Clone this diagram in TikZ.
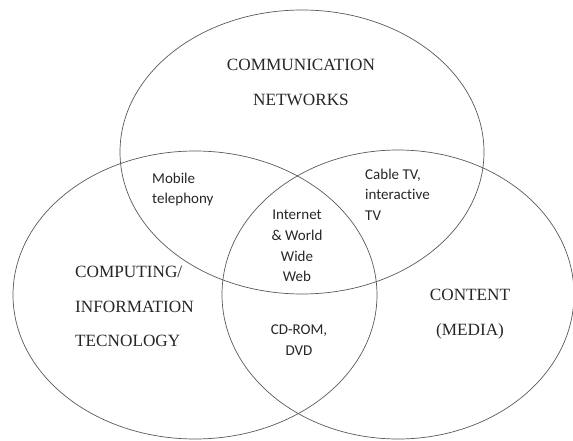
\documentclass[tikz,border=0pt]{standalone}
\usepackage{fontspec}
\setmainfont{Liberation Serif}
\newfontfamily\bodysans[Ligatures=NoCommon]{Carlito}
\usetikzlibrary{shapes.geometric}

\begin{document}
\begin{tikzpicture}[x = 1pt, y = -1pt, % y grows downwards
                set/.style = {draw = black!65, ellipse, line width = 0.7pt, inner sep = 0pt},
                setname/.style = {font = \fontsize{17.2}{34.5}\selectfont, text = black!85, inner sep = 0pt},
                overlap/.style = {font = \bodysans\fontsize{15}{20.7}\selectfont, text = black!85, inner sep = 0pt}
            ]
            \useasboundingbox (0,0) rectangle (573,441);

            % the three sets
            \node[set, minimum width = 364pt, minimum height = 284pt] (comm) at (302,152) {};
            \node[set, minimum width = 364pt, minimum height = 288pt] (comp) at (195,295) {};
            \node[set, minimum width = 352pt, minimum height = 289pt] (cont) at (398,294.5) {};

            % names of the sets
            \node[setname, align = center] (commname) at (301,82.5) {COMMUNICATION\\NETWORKS};
            \node[setname, align = left, anchor = west] (compname) at (75,306.5) {COMPUTING/\\INFORMATION\\TECNOLOGY};
            \node[setname, align = center] (contname) at (470,314) {CONTENT\\(MEDIA)};

            % what lies in the overlaps
            \node[overlap, align = left, anchor = west] (mobile) at (152,189.5) {Mobile\\telephony};
            \node[overlap, align = left, anchor = west] (cable) at (365,194.5) {Cable TV,\\interactive\\TV};
            \node[overlap, align = center] (www) at (297,246) {Internet\\\& World\\Wide\\Web};
            \node[overlap, align = center] (cdrom) at (299,340) {CD-ROM,\\DVD};
        \end{tikzpicture}
\end{document}
